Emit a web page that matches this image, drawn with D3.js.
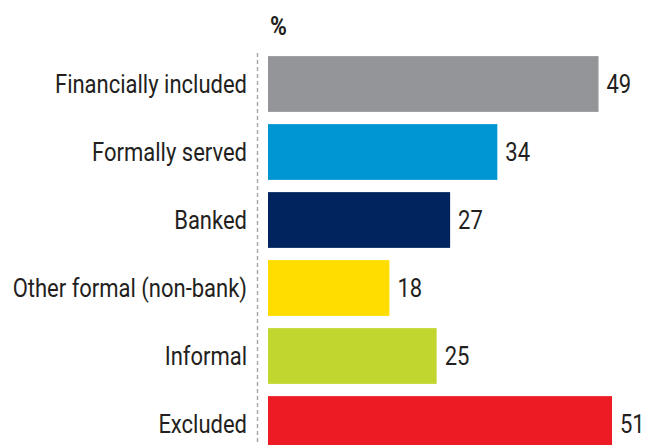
<!DOCTYPE html>
<html>
<head>
<meta charset="utf-8">
<script src="https://cdn.jsdelivr.net/npm/d3@7"></script>
<style>
  html, body { margin: 0; padding: 0; background: #fff; overflow: hidden; }
  text { font-family: "Roboto", "Liberation Sans", sans-serif; fill: #231f20; }
</style>
</head>
<body>
<svg id="chart" width="648" height="445"></svg>
<script>
// Share of adults by financial access category (%)
const categories = ["Financially included", "Formally served", "Banked", "Other formal (non-bank)", "Informal", "Excluded"];
const values = [49, 34, 27, 18, 25, 51];
const colors = ["#939598", "#0095d3", "#00245d", "#ffdd00", "#c1d72f", "#ed1c24"];
const unitLabel = "%";

const svg = d3.select("#chart");
const x0 = 268;
const condense = 0.88; // narrow letterforms

const x = d3.scaleLinear().domain([0, 51]).range([x0, 612]);
const y = d3.scaleBand().domain(categories).range([50, 458]).paddingInner(0.18).paddingOuter(0.09);

// dashed baseline axis
svg.append("line")
  .attr("x1", 257.5).attr("x2", 257.5)
  .attr("y1", 53).attr("y2", 445)
  .attr("stroke", "#a7a9ac").attr("stroke-width", 1.5)
  .attr("stroke-dasharray", "4,3");

svg.append("text")
  .attr("transform", `translate(270,35) scale(${condense},1)`)
  .attr("font-size", 26).attr("font-weight", "bold")
  .text(unitLabel);

const rows = svg.selectAll("g.row").data(categories).join("g").attr("class", "row");

rows.append("rect")
  .attr("x", x(0))
  .attr("y", d => y(d))
  .attr("width", (d, i) => x(values[i]) - x(0))
  .attr("height", y.bandwidth())
  .attr("fill", (d, i) => colors[i]);

rows.append("text")
  .attr("transform", d => `translate(247,${y(d) + y.bandwidth() / 2}) scale(${condense},1)`)
  .attr("dy", "0.36em")
  .attr("text-anchor", "end")
  .attr("font-size", 25)
  .text(d => d);

rows.append("text")
  .attr("transform", (d, i) => `translate(${x(values[i]) + 8},${y(d) + y.bandwidth() / 2}) scale(${condense},1)`)
  .attr("dy", "0.36em")
  .attr("font-size", 25)
  .text((d, i) => values[i]);
</script>
</body>
</html>
